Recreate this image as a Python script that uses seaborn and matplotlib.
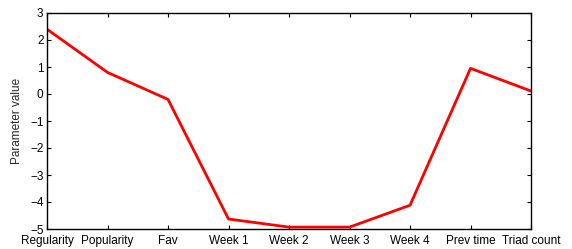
import matplotlib
matplotlib.use("Agg")
import matplotlib.pyplot as plt
import seaborn as sns
import pandas as pd

categories = ["Regularity", "Popularity", "Fav", "Week 1", "Week 2", "Week 3",
              "Week 4", "Prev time", "Triad count"]
values = [2.4, 0.8, -0.2, -4.63, -4.93, -4.93, -4.12, 0.95, 0.11]
yticks = [-5, -4, -3, -2, -1, 0, 1, 2, 3]

sns.set_style("white")
plt.rcParams['font.family'] = ['Liberation Sans', 'DejaVu Sans']
plt.rcParams['axes.unicode_minus'] = True

df = pd.DataFrame({"x": range(len(categories)), "v": values})

fig = plt.figure(figsize=(5.72, 2.49), dpi=100)
ax = fig.add_axes([47/572, 1 - 229/249, (531-47)/572, (229-13)/249])
sns.lineplot(data=df, x="x", y="v", ax=ax, color="#ff0000", linewidth=2)
ax.set_xlim(0, len(categories) - 1)
ax.set_ylim(-5, 3)
ax.set_xticks(range(len(categories)))
ax.set_xticklabels(categories)
ax.set_yticks(yticks)
ax.set_yticklabels([str(t).replace("-", "\u2212") for t in yticks])
ax.set_xlabel("")
ax.set_ylabel("Parameter value", fontsize=8.5, labelpad=5)
ax.tick_params(direction="in", length=3, width=0.8, labelsize=8.5,
               top=True, right=True, bottom=True, left=True, colors="black")
ax.tick_params(axis="x", pad=4.5)
ax.tick_params(axis="y", pad=2.5)
for s in ax.spines.values():
    s.set_visible(True)
    s.set_color("black")
    s.set_linewidth(1)
fig.savefig("out.png", dpi=100)
